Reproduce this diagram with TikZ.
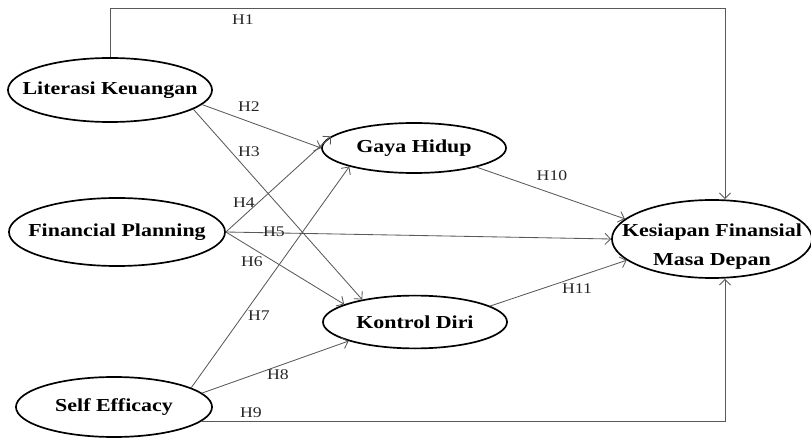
\documentclass[tikz,border=0pt]{standalone}
\usepackage{fontspec}
\setmainfont{Liberation Serif}
\usepackage{graphicx}
\usetikzlibrary{shapes.geometric,arrows.meta}

\newcommand{\wide}[1]{\scalebox{1.2}[1]{#1}}
\tikzset{
  latent/.style={draw, ellipse, line width=1.2pt, inner sep=0pt},
  link/.style={draw=black!65, line width=0.6pt, -{Straight Barb[length=4pt,width=8pt]}},
  hyp/.style={font=\fontsize{10.5}{12}\selectfont, text=black!85, inner sep=0pt},
  every label/.style={font=\fontsize{13}{20.6}\selectfont\bfseries, align=center, inner sep=0pt}
}

\begin{document}
\begin{tikzpicture}[x=0.025cm,y=-0.025cm]
\useasboundingbox (0,0) rectangle (811,439);

% variables
\node [latent, minimum width=5.1cm, minimum height=1.6cm, label={center:\wide{Literasi Keuangan}}] (lit) at (110,90) {};
\node [latent, minimum width=5.4cm, minimum height=1.7cm, label={center:\wide{Financial Planning}}] (fp) at (117,232) {};
\node [latent, minimum width=4.9cm, minimum height=1.5cm, label={center:\wide{Self Efficacy}}] (se) at (114,407) {};
\node [latent, minimum width=4.6cm, minimum height=1.25cm, label={center:\wide{Gaya Hidup}}] (gaya) at (414,148) {};
\node [latent, minimum width=4.6cm, minimum height=1.32cm, label={center:\wide{Kontrol Diri}}] (kon) at (415,322) {};
\node [latent, minimum width=5.0cm, minimum height=1.95cm, label={[yshift=-0.2cm]center:{\wide{Kesiapan Finansial}\\\wide{Masa Depan}}}] (kes) at (712,239) {};

\coordinate (top) at (725,8);

% paths
\draw [link] (lit.north) |- (top) -- (kes.north -| top);
\draw [link] (lit.-9) -- (gaya.west);
\draw [link] (lit.-13) -- (kon.157);
\draw [link] (fp.east) -- (gaya.172);
\draw [link] (fp.east) -- (kes.west);
\draw [link] (fp.east) -- (kon.166);
\draw [link] (se.14) -- (gaya.-164);
\draw [link] (se.9) -- (kon.196);
\draw [link] (se.-9) -| (kes.south -| top);
\draw [link] (gaya.-17) -- (kes.167);
\draw [link] (kon.12) -- (kes.194);

% hypotheses
\node [hyp] (h1) at (243,20) {\wide{H1}};
\node [hyp] (h2) at (249,107) {\wide{H2}};
\node [hyp] (h3) at (249,152) {\wide{H3}};
\node [hyp] (h4) at (244,203) {\wide{H4}};
\node [hyp] (h5) at (274,232) {\wide{H5}};
\node [hyp] (h6) at (252,262) {\wide{H6}};
\node [hyp] (h7) at (259,316) {\wide{H7}};
\node [hyp] (h8) at (278,375) {\wide{H8}};
\node [hyp] (h9) at (251,413) {\wide{H9}};
\node [hyp] (h10) at (552,176) {\wide{H10}};
\node [hyp] (h11) at (577,289) {\wide{H11}};

\end{tikzpicture}
\end{document}
